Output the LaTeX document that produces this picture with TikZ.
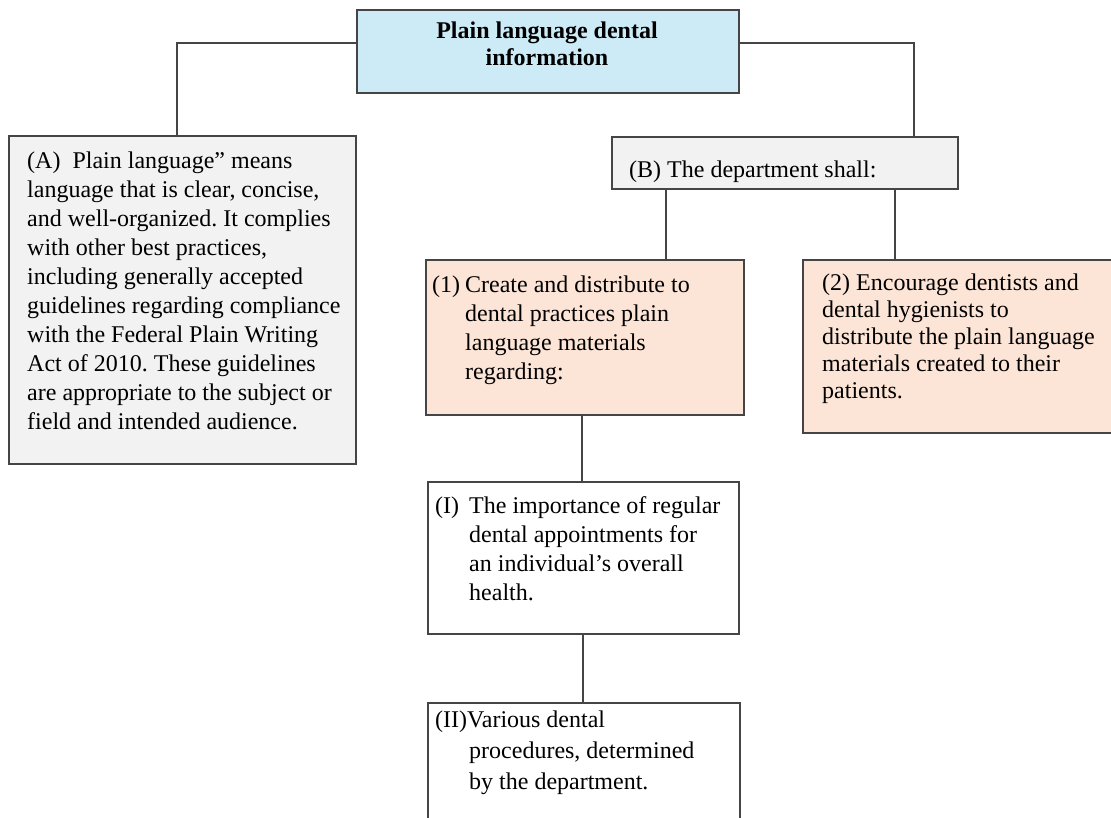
\documentclass[tikz,border=0pt]{standalone}
\usepackage{fontspec}
\setmainfont{Liberation Serif}
\usepackage{array}
\frenchspacing
\definecolor{lc}{HTML}{454545}
\definecolor{bluef}{HTML}{CDEBF7}
\definecolor{greyf}{HTML}{F2F2F2}
\definecolor{peachf}{HTML}{FCE4D6}
\newcommand\myfs[2]{\fontsize{#1}{#2}\selectfont}
\tikzset{
  boxn/.style={draw=lc, line width=1.7pt, rectangle, inner sep=0pt, anchor=north west},
  conn/.style={draw=lc, line width=1.6pt},
  txt/.style={inner sep=0pt, anchor=base west, text=black}
}
\begin{document}
\begin{tikzpicture}[x=1pt,y=-1pt]
\useasboundingbox (0,0) rectangle (1111,817);
\clip (0,0) rectangle (1111,817);
\fill[white] (0,0) rectangle (1111,817);
% boxes
\node[boxn, fill=bluef, minimum width=382pt, minimum height=83pt] (T) at (356,9) {};
\node[boxn, fill=greyf, minimum width=347pt, minimum height=328pt] (A) at (8,135) {};
\node[boxn, fill=greyf, minimum width=346pt, minimum height=52pt] (B) at (611,136) {};
\node[boxn, fill=peachf, minimum width=318pt, minimum height=155pt] (P1) at (425,259) {};
\node[boxn, fill=peachf, minimum width=330pt, minimum height=173pt] (P2) at (802,259) {};
\node[boxn, fill=white, minimum width=311pt, minimum height=152pt] (I) at (427,481) {};
\node[boxn, fill=white, minimum width=312pt, minimum height=140pt] (II) at (427,702) {};
% connectors
\coordinate (tl) at (177,43);
\coordinate (tr) at (914,43);
\coordinate (b1) at (666,0);
\coordinate (b2) at (895,0);
\coordinate (c1) at (582,0);
\coordinate (c2) at (583,0);
\draw[conn] (T.west |- tl) -| (tl |- A.north);
\draw[conn] (T.east |- tr) -| (tr |- B.north);
\draw[conn] (b1 |- B.south) -- (b1 |- P1.north);
\draw[conn] (b2 |- B.south) -- (b2 |- P2.north);
\draw[conn] (c1 |- P1.south) -- (c1 |- I.north);
\draw[conn] (c2 |- I.south) -- (c2 |- II.north);
% texts
\node[inner sep=0pt, anchor=base, text=black] (Tt) at (547,38) {\myfs{24}{27}\bfseries
  \begin{tabular}[t]{@{}c@{}}Plain language dental\\ information\end{tabular}};
\node[txt] (At) at (27,168) {\myfs{24}{29.1}%
  \begin{tabular}[t]{@{}l@{}}
  (A)\ \ Plain language” means\\
  language that is clear, concise,\\
  and well-organized. It complies\\
  with other best practices,\\
  including generally accepted\\
  guidelines regarding compliance\\
  with the Federal Plain Writing\\
  Act of 2010. These guidelines\\
  are appropriate to the subject or\\
  field and intended audience.
  \end{tabular}};
\node[txt] (Bt) at (629,177) {\myfs{24}{29}(B) The department shall:};
\node[txt] (P1t) at (432,292) {\myfs{24}{29}%
  \begin{tabular}[t]{@{}p{33pt}@{}l@{}}
  (1) & Create and distribute to\\
      & dental practices plain\\
      & language materials\\
      & regarding:
  \end{tabular}};
\node[txt] (P2t) at (822,290) {\myfs{24}{27}%
  \begin{tabular}[t]{@{}l@{}}
  (2) Encourage dentists and\\
  dental hygienists to\\
  distribute the plain language\\
  materials created to their\\
  patients.
  \end{tabular}};
\node[txt] (It) at (435,513) {\myfs{24}{29}%
  \begin{tabular}[t]{@{}p{34pt}@{}l@{}}
  (I) & The importance of regular\\
      & dental appointments for\\
      & an individual’s overall\\
      & health.
  \end{tabular}};
\node[txt] (IIt) at (435,727) {\myfs{24}{31}%
  \begin{tabular}[t]{@{}p{34pt}@{}l@{}}
  \multicolumn{2}{@{}l@{}}{(II)Various dental}\\
      & procedures, determined\\
      & by the department.
  \end{tabular}};
\end{tikzpicture}
\end{document}
